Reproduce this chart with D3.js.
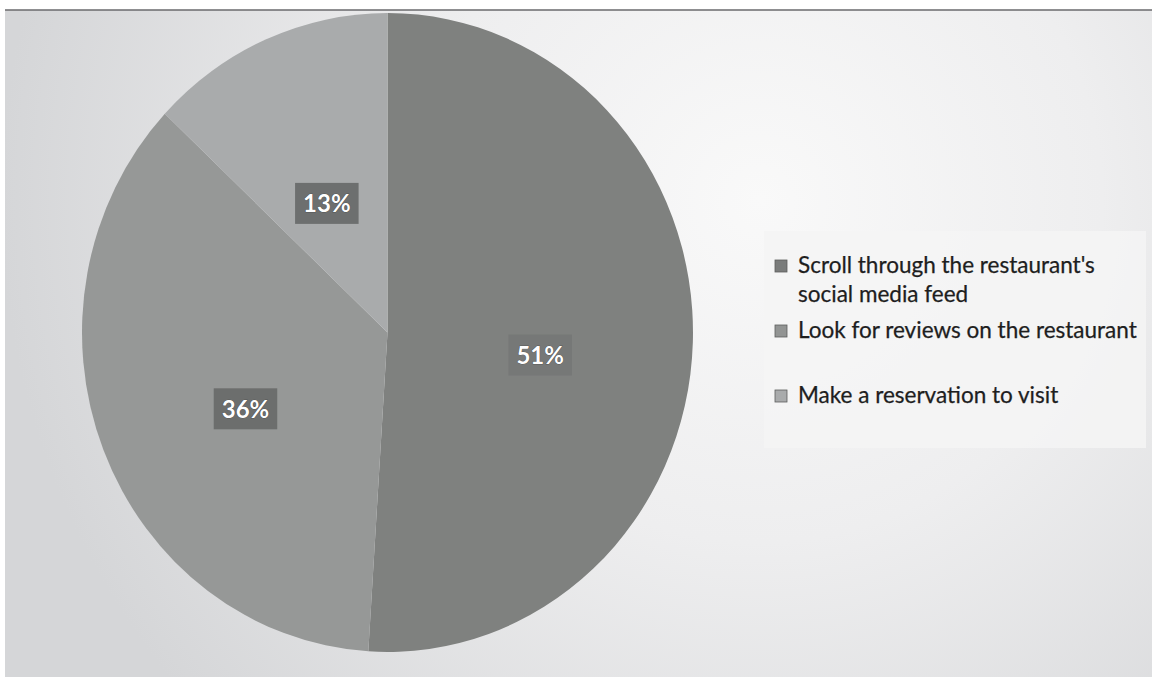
<!DOCTYPE html>
<html>
<head>
<meta charset="utf-8">
<script src="https://cdn.jsdelivr.net/npm/d3@7"></script>
<style>
  html, body { margin: 0; padding: 0; background: #ffffff; }
  svg { display: block; }
</style>
</head>
<body>
<svg id="chart" width="1156" height="677"></svg>
<script>
// Survey answers and their shares (percent)
const categories = [
  "Scroll through the restaurant's social media feed",
  "Look for reviews on the restaurant",
  "Make a reservation to visit"
];
const legendLines = [
  ["Scroll through the restaurant's", "social media feed"],
  ["Look for reviews on the restaurant"],
  ["Make a reservation to visit"]
];
const values = [51, 36, 13];
const valueLabels = ["51%", "36%", "13%"];

const sliceColors = ["#7f817f", "#969897", "#a9abac"];
const labelBoxColors = ["#767877", "#6c6e6d", "#6d6f6f"];
const legendSwatch = ["#7a7c7b", "#929493", "#a9abac"];

const W = 1156, H = 677;
const svg = d3.select("#chart");
const defs = svg.append("defs");

// Paper-like background: brighter in the upper middle, greyer toward the edges
const bg = defs.append("radialGradient").attr("id", "bgGrad")
  .attr("gradientUnits", "userSpaceOnUse")
  .attr("cx", 760).attr("cy", 200).attr("r", 760);
bg.append("stop").attr("offset", "0%").attr("stop-color", "#f9f9f9");
bg.append("stop").attr("offset", "45%").attr("stop-color", "#eeeeef");
bg.append("stop").attr("offset", "100%").attr("stop-color", "#d5d6d8");

svg.append("rect").attr("width", W).attr("height", H).attr("fill", "#ffffff");
svg.append("rect").attr("x", 5).attr("y", 10).attr("width", W - 9).attr("height", H - 10)
  .attr("fill", "url(#bgGrad)");
// top border line
svg.append("line").attr("x1", 5).attr("x2", W - 4).attr("y1", 10).attr("y2", 10)
  .attr("stroke", "#6a6a6c").attr("stroke-width", 1.5);

// Legend panel (slightly brighter box)
svg.append("rect").attr("x", 764).attr("y", 231).attr("width", 382).attr("height", 217)
  .attr("fill", "#f4f4f5").attr("opacity", 0.85);

// Pie geometry (slightly taller than wide)
const cx = 387.5, cy = 332.5, rx = 305.5, ry = 319.5;
const pie = d3.pie().sort(null).value(d => d);
const arcs = pie(values);
const arc = d3.arc().innerRadius(0).outerRadius(ry);

const pieG = svg.append("g")
  .attr("transform", `translate(${cx},${cy}) scale(${rx / ry},1)`);
pieG.selectAll("path").data(arcs).join("path")
  .attr("d", arc)
  .attr("fill", (d, i) => sliceColors[i])
  .attr("stroke", "none");

// Data labels at the slice centroids
const labelG = svg.append("g");
arcs.forEach((d, i) => {
  const c = arc.centroid(d);
  const x = cx + c[0] * rx / ry;
  const y = cy + c[1] + 17;
  const g = labelG.append("g").attr("transform", `translate(${x},${y})`);
  const rect = g.append("rect").attr("fill", labelBoxColors[i]);
  const t = g.append("text")
    .attr("text-anchor", "middle")
    .attr("dominant-baseline", "central")
    .attr("font-family", "Lato, 'Open Sans', sans-serif")
    .attr("font-weight", "bold")
    .attr("font-size", 24)
    .attr("fill", "#ffffff")
    .attr("stroke", "#3a3a3a").attr("stroke-width", 0.6)
    .attr("paint-order", "stroke")
    .text(valueLabels[i]);
  const bb = t.node().getBBox();
  rect.attr("x", bb.x - 8).attr("y", -20).attr("width", bb.width + 16).attr("height", 41);
});

// Legend
const legendFont = "Lato, 'Open Sans', sans-serif";
const legendX = 798;
const rowBaselines = [[273, 302], [338], [403]];
const legendG = svg.append("g");
// size the font so the longest line spans the legend width
const probe = legendG.append("text").attr("font-family", legendFont).attr("font-size", 20)
  .text(legendLines[1][0]);
const probeW = probe.node().getComputedTextLength();
probe.remove();
const legendSize = 20 * 339 / probeW;

categories.forEach((name, i) => {
  const base = rowBaselines[i];
  legendG.append("rect")
    .attr("x", 775).attr("y", base[0] - 13).attr("width", 12).attr("height", 12)
    .attr("fill", legendSwatch[i]).attr("stroke", "#5c5e5d").attr("stroke-width", 0.8);
  legendLines[i].forEach((line, k) => {
    legendG.append("text")
      .attr("x", legendX).attr("y", base[k])
      .attr("font-family", legendFont)
      .attr("font-size", legendSize)
      .attr("fill", "#1e1e1e")
      .attr("stroke", "#1e1e1e").attr("stroke-width", 0.25)
      .text(line);
  });
});
</script>
</body>
</html>
